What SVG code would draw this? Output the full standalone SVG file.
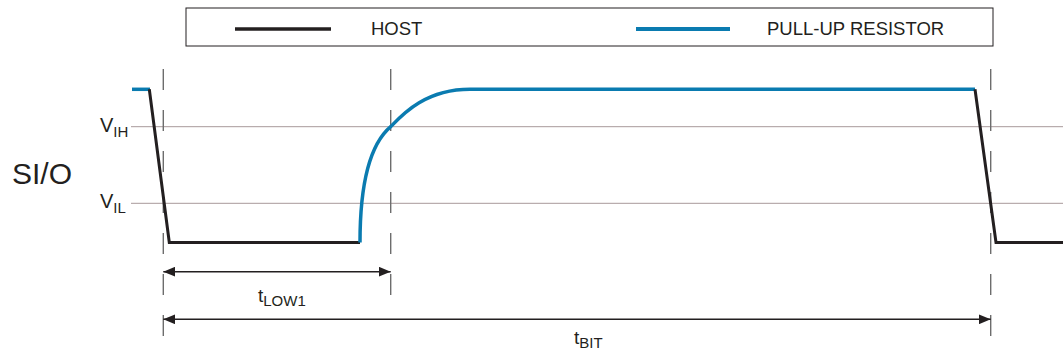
<svg xmlns="http://www.w3.org/2000/svg" width="1063" height="356" viewBox="0 0 1063 356">
<style>
text{font-family:"Liberation Sans",Arial,sans-serif;fill:#231f20}
.host{fill:none;stroke:#231f20;stroke-width:3;stroke-linejoin:miter}
.pull{fill:none;stroke:#0a7bb0;stroke-width:3.5;stroke-linecap:butt}
.ref{stroke:#a8999a;stroke-width:1}
.dash{stroke:#6d6d6d;stroke-width:1.4;stroke-dasharray:21 20}
.dim{stroke:#231f20;stroke-width:1.5;fill:none}
</style>
<defs>
<marker id="ah" viewBox="0 0 12 10" refX="12" refY="5" markerWidth="12" markerHeight="10" markerUnits="userSpaceOnUse" orient="auto-start-reverse">
<path d="M0,0 L12,5 L0,10 Z" fill="#231f20"/>
</marker>
</defs>
<rect width="1063" height="356" fill="#ffffff"/>

<g id="legend">
<rect x="186" y="8" width="807" height="38" fill="#ffffff" stroke="#231f20" stroke-width="1"/>
<line x1="235" y1="29" x2="331" y2="29" stroke="#231f20" stroke-width="3.5"/>
<text x="371" y="35" font-size="18.5">HOST</text>
<line x1="636" y1="29" x2="730" y2="29" stroke="#0a7bb0" stroke-width="4"/>
<text x="767" y="35" font-size="18.5">PULL-UP RESISTOR</text>
</g>

<g id="reference-levels">
<line class="ref" x1="131" y1="126.7" x2="1063" y2="126.7"/>
<line class="ref" x1="131" y1="203.3" x2="1063" y2="203.3"/>
<text x="100" y="132" font-size="20">V<tspan font-size="15" dy="5">IH</tspan></text>
<text x="100" y="208" font-size="20">V<tspan font-size="15" dy="5">IL</tspan></text>
<text x="12" y="184" font-size="30">SI/O</text>
</g>

<g id="markers">
<line class="dash" x1="163.3" y1="69" x2="163.3" y2="338"/>
<line class="dash" x1="390.7" y1="69" x2="390.7" y2="297"/>
<line class="dash" x1="990.7" y1="69" x2="990.7" y2="338"/>
</g>

<g id="waveform">
<path class="pull" d="M132,89.3 L150,89.3"/>
<path class="host" d="M149.3,89.3 L169.3,242.5 L360,242.5"/>
<path class="pull" d="M360,242.5 C360,170 375,140 390.7,126.7 C402,115 425,89.3 470,89.3 L975,89.3"/>
<path class="host" d="M975,89.3 L996,242.5 L1063,242.5"/>
</g>

<g id="connectors">
<line class="dim" x1="163.3" y1="271.7" x2="390.7" y2="271.7" marker-start="url(#ah)" marker-end="url(#ah)"/>
<line class="dim" x1="163.3" y1="319.3" x2="990.7" y2="319.3" marker-start="url(#ah)" marker-end="url(#ah)"/>
</g>

<g id="labels">
<text x="258" y="302" font-size="19">t<tspan font-size="15" dy="4">LOW1</tspan></text>
<text x="574" y="344" font-size="19">t<tspan font-size="15" dy="4">BIT</tspan></text>
</g>
</svg>
